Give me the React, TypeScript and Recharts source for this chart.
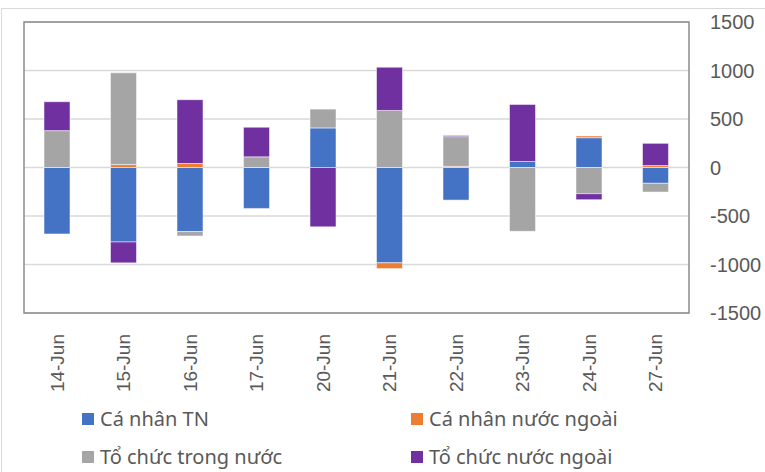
import React from 'react'
import { BarChart, Bar, XAxis, YAxis, CartesianGrid, ReferenceArea } from 'recharts'

const dates = ['14-Jun', '15-Jun', '16-Jun', '17-Jun', '20-Jun', '21-Jun', '22-Jun', '23-Jun', '24-Jun', '27-Jun']
const caNhanTN = [-685, -768, -661, -422, 408, -983, -336, 62, 307, -163]
const caNhanNN = [0, 30, 41, 0, 0, -59, 12, 0, 18, 20]
const toChucTN = [380, 946, -45, 110, 194, 588, 306, -658, -270, -90]
const toChucNN = [298, -215, 658, 305, -612, 446, 12, 588, -62, 229]
const yTicks = [-1500, -1000, -500, 0, 500, 1000, 1500]

const SERIES = [
  { key: 'caNhanTN', name: 'Cá nhân TN', color: '#4472C4' },
  { key: 'caNhanNN', name: 'Cá nhân nước ngoài', color: '#ED7D31' },
  { key: 'toChucTN', name: 'Tổ chức trong nước', color: '#A5A5A5' },
  { key: 'toChucNN', name: 'Tổ chức nước ngoài', color: '#7030A0' },
]

const data = dates.map((date, i) => ({
  date,
  caNhanTN: caNhanTN[i],
  caNhanNN: caNhanNN[i],
  toChucTN: toChucTN[i],
  toChucNN: toChucNN[i],
}))

const FONT = '"Liberation Sans", Arial, sans-serif'
const LEGEND_FONT = '"Noto Sans", "Liberation Sans", sans-serif'
const TEXT = '#595959'

function DateTick(props: any) {
  const { x, y, payload } = props
  return (
    <g transform={`translate(${x},${y})`}>
      <text
        x={0}
        y={0}
        dy="0.35em"
        transform="rotate(-90)"
        textAnchor="end"
        fill={TEXT}
        fontSize={19}
        fontFamily={FONT}
      >
        {payload.value}
      </text>
    </g>
  )
}

export default function App() {
  return (
    <div
      style={{
        position: 'absolute',
        left: 0,
        top: 0,
        width: 765,
        height: 472,
        background: '#fff',
        overflow: 'hidden',
      }}
    >
      <div
        style={{
          position: 'absolute',
          left: 1,
          top: 8,
          width: 780,
          height: 480,
          borderTop: '1px solid #d9d9d9',
          borderLeft: '1px solid #d9d9d9',
        }}
      />
      <BarChart
        width={765}
        height={472}
        data={data}
        stackOffset="sign"
        barSize={26}
        margin={{ top: 22, right: 0, left: 24, bottom: 79 }}
      >
        <CartesianGrid vertical={false} stroke="#d9d9d9" strokeWidth={1.5} />
        <XAxis
          dataKey="date"
          axisLine={false}
          tickLine={false}
          interval={0}
          height={80}
          tick={<DateTick />}
          tickMargin={15}
        />
        <YAxis
          orientation="right"
          width={76}
          domain={[-1500, 1500]}
          ticks={yTicks}
          axisLine={false}
          tickLine={false}
          tickSize={0}
          tickMargin={21}
          tick={{ fill: TEXT, fontSize: 20, fontFamily: FONT, textAnchor: 'start' }}
        />
        {SERIES.map(s => (
          <Bar
            key={s.key}
            dataKey={s.key}
            name={s.name}
            stackId="a"
            fill={s.color}
            stroke="#ffffff"
            strokeWidth={0.5}
            isAnimationActive={false}
          />
        ))}
        <ReferenceArea
          y1={-1500}
          y2={1500}
          fill="none"
          fillOpacity={0}
          stroke="#8c8c8c"
          strokeWidth={1.5}
          ifOverflow="visible"
        />
      </BarChart>
      {SERIES.map((s, i) => (
        <div
          key={s.key}
          style={{
            position: 'absolute',
            left: i % 2 === 0 ? 82 : 411,
            top: i < 2 ? 407 : 445,
            display: 'flex',
            alignItems: 'center',
            fontFamily: LEGEND_FONT,
            fontSize: 20,
            color: TEXT,
            lineHeight: '24px',
            whiteSpace: 'nowrap',
          }}
        >
          <span style={{ width: 12, height: 12, background: s.color, marginRight: 6 }} />
          {s.name}
        </div>
      ))}
    </div>
  )
}
